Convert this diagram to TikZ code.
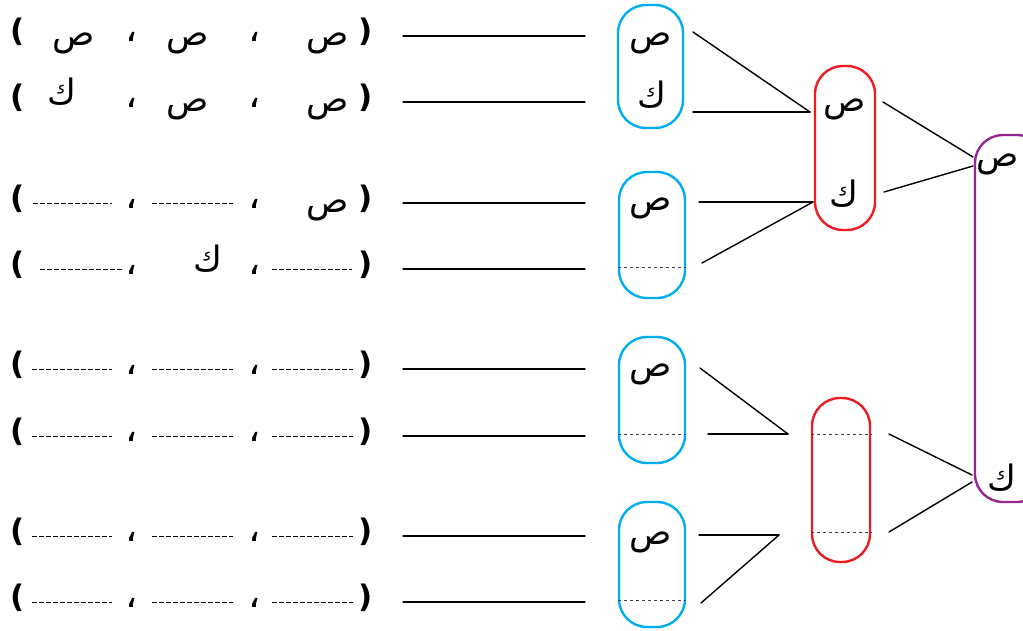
\documentclass[tikz,border=0pt]{standalone}
\usepackage{fontspec}
\newfontfamily\arabicfont[Script=Arabic]{DejaVu Sans}
\newfontfamily\parenfont{DejaVu Sans}
\TeXXeTstate=1
\definecolor{boxA}{RGB}{0,174,239}
\definecolor{boxB}{RGB}{237,28,36}
\definecolor{boxC}{RGB}{146,39,143}
\newcommand{\sad}{\arabicfont ص}
\newcommand{\kaf}{\arabicfont ك}
\newcommand{\fasila}{\arabicfont ،}

\begin{document}
\begin{tikzpicture}[x=1pt, y=-1pt, line cap=round,
  paren/.style={font={\fontsize{31}{32}\selectfont\parenfont\bfseries}, inner sep=0pt, anchor=base},
  txt/.style={font={\fontsize{35}{40}\selectfont}, inner sep=0pt, anchor=base},
  comma/.style={font={\fontsize{38}{40}\selectfont}, inner sep=0pt, anchor=base},
  lett/.style={font={\fontsize{35}{40}\selectfont}, inner sep=0pt, anchor=base},
  blank/.style={dash pattern=on 4.5pt off 2.5pt, line width=0.8pt, line cap=butt},
  answer/.style={line width=1.4pt},
  link/.style={line width=1.4pt},
  split/.style={dash pattern=on 3.5pt off 2.5pt, line width=0.8pt, black!75, line cap=butt},
  group/.style={draw, line width=2.4pt, rounded corners=28pt, inner sep=0pt}]
\useasboundingbox (0,0) rectangle (1023,630);
\clip (0,0) rectangle (1023,630);
% الأقواس والفواصل
\foreach \y in {36,102,203,269,369,436,536,602} {
  \node[paren] at (18,\y+5) {(};
  \node[paren] at (366,\y+5) {)};
  \node[comma] at (132,\y+5) {\fasila};
  \node[comma] at (255,\y+5) {\fasila};
  \draw[answer] (403,\y) -- (585,\y);
}
% الصف 1 و 2
\node[txt] (t11) at (74,45) {\sad};
\node[txt] (t12) at (188,45) {\sad};
\node[txt] (t13) at (328,45) {\sad};
\node[txt] (t21) at (62,104) {\kaf};
\node[txt] (t22) at (188,111) {\sad};
\node[txt] (t23) at (328,111) {\sad};
% الصف 3 و 4
\draw[blank] (33,203) -- (112,203);
\draw[blank] (152,203) -- (233,203);
\node[txt] (t33) at (328,212) {\sad};
\draw[blank] (40,269) -- (122,269);
\node[txt] (t42) at (208,271) {\kaf};
\draw[blank] (272,269) -- (352,269);
% الصفوف 5 - 8
\foreach \y in {369,436,536,602} {
  \draw[blank] (32,\y) -- (112,\y);
  \draw[blank] (152,\y) -- (233,\y);
  \draw[blank] (272,\y) -- (353,\y);
}
% المجموعات الزرقاء
\node[group, boxA, minimum width=65, minimum height=123] (b1) at (650.5,66.5) {};
\node[group, boxA, minimum width=66, minimum height=126] (b2) at (652,235) {};
\node[group, boxA, minimum width=66, minimum height=126] (b3) at (652,400) {};
\node[group, boxA, minimum width=66, minimum height=125] (b4) at (652,564.5) {};
\node[lett] (b1s) at (651,45) {\sad};
\node[lett] (b1k) at (652,107) {\kaf};
\node[lett] (b2s) at (651,210) {\sad};
\node[lett] (b3s) at (651,376) {\sad};
\node[lett] (b4s) at (651,544) {\sad};
\draw[split] (b2.west |- 0,267) -- (b2.east |- 0,267);
\draw[split] (b3.west |- 0,434) -- (b3.east |- 0,434);
\draw[split] (b4.west |- 0,600) -- (b4.east |- 0,600);
% المجموعات الحمراء
\node[group, boxB, minimum width=60, minimum height=164] (r1) at (845,148) {};
\node[group, boxB, minimum width=58, minimum height=164] (r2) at (841,480) {};
\node[lett] (r1s) at (845,111) {\sad};
\node[lett] (r1k) at (844,206) {\kaf};
\draw[split] (r2.west |- 0,434) -- (r2.east |- 0,434);
\draw[split] (r2.west |- 0,532) -- (r2.east |- 0,532);
% المجموعة البنفسجية
\node[group, boxC, minimum width=70, minimum height=367] (p1) at (1010,318.5) {};
\node[lett] (p1s) at (998,166) {\sad};
\node[lett] (p1k) at (1002,490) {\kaf};
% الفروع
\coordinate (a1) at (693,32);  \coordinate (a2) at (693,112); \coordinate (j1) at (810,112);
\coordinate (a3) at (699,202); \coordinate (a4) at (702,263); \coordinate (j2) at (813,202);
\coordinate (a5) at (700,368); \coordinate (a6) at (708,434); \coordinate (j3) at (788,434);
\coordinate (a7) at (699,535); \coordinate (a8) at (701,603); \coordinate (j4) at (779,535);
\coordinate (c1) at (883,102); \coordinate (k1) at (973,157);
\coordinate (c2) at (884,192); \coordinate (k2) at (973,166);
\coordinate (c3) at (889,434); \coordinate (k3) at (972,475);
\coordinate (c4) at (889,532); \coordinate (k4) at (972,482);
\draw[link] (a1) -- (j1); \draw[link] (a2) -- (j1);
\draw[link] (a3) -- (j2); \draw[link] (a4) -- (j2);
\draw[link] (a5) -- (j3); \draw[link] (a6) -- (j3);
\draw[link] (a7) -- (j4); \draw[link] (a8) -- (j4);
\draw[link] (c1) -- (k1); \draw[link] (c2) -- (k2);
\draw[link] (c3) -- (k3); \draw[link] (c4) -- (k4);
\end{tikzpicture}
\end{document}
